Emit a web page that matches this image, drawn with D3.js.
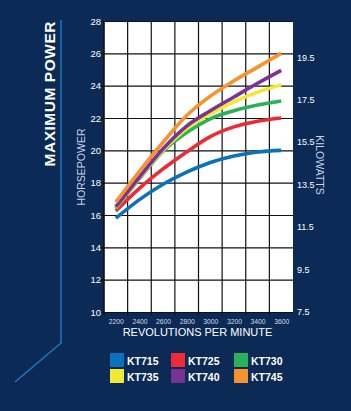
<!DOCTYPE html>
<html>
<head>
<meta charset="utf-8">
<script src="https://cdn.jsdelivr.net/npm/d3@7"></script>
<style>
  html, body { margin:0; padding:0; background:#0c2a56; }
  svg { display:block; font-family:"Liberation Sans", Arial, sans-serif; }
</style>
</head>
<body>
<div id="chart"></div>
<script>
// Maximum power curves, KT7xx engines
const rpm    = [2200, 2400, 2600, 2800, 3000, 3200, 3400, 3600];
const models = ["KT715", "KT725", "KT730", "KT735", "KT740", "KT745"];
const colors = ["#0a72bc", "#ee2a34", "#2ab25a", "#f2ea32", "#7b3295", "#f7922e"];

const kt715 = [15.8, 16.95, 17.9, 18.65, 19.25, 19.65, 19.9, 20.0];
const kt725 = [16.25, 17.65, 18.85, 19.9, 20.85, 21.45, 21.8, 22.0];
const kt730 = [16.4, 18.25, 19.95, 21.1, 21.95, 22.45, 22.8, 23.05];
const kt735 = [16.45, 18.3, 20.0, 21.35, 22.25, 23.0, 23.6, 24.05];
const kt740 = [16.5, 18.35, 20.1, 21.5, 22.45, 23.3, 24.15, 24.95];
const kt745 = [16.8, 18.7, 20.5, 22.15, 23.35, 24.3, 25.15, 26.0];
const seriesValues = [kt715, kt725, kt730, kt735, kt740, kt745];

const hpTicks  = [10, 12, 14, 16, 18, 20, 22, 24, 26, 28];
const kwTicks  = [7.5, 9.5, 11.5, 13.5, 15.5, 17.5, 19.5];
const gridRpm  = [2100, 2300, 2500, 2700, 2900, 3100, 3300, 3500];

const W = 351, H = 411;
const plot = { left: 104, right: 293, top: 21, bottom: 312 };

const svg = d3.select("#chart").append("svg")
  .attr("width", W).attr("height", H);

svg.append("rect").attr("width", W).attr("height", H).attr("fill", "#0c2a56");

// decorative blue rule on the left
svg.append("path")
  .attr("d", "M61,20 L61,343 L15,382")
  .attr("fill", "none")
  .attr("stroke", "#1a78c2")
  .attr("stroke-width", 1.5);

svg.append("text")
  .attr("transform", "translate(55,94) rotate(-90)")
  .attr("text-anchor", "middle")
  .attr("font-size", 15.5).attr("font-weight", "bold")
  .attr("fill", "#fff")
  .attr("textLength", 145).attr("lengthAdjust", "spacing")
  .text("MAXIMUM POWER");

/* ---------- scales ---------- */
const x  = d3.scaleLinear().domain([2100, 3700]).range([plot.left, plot.right]);
const y  = d3.scaleLinear().domain([10, 28]).range([plot.bottom, plot.top]);
const yk = d3.scaleLinear().domain([7.5, 21.2]).range([plot.bottom, plot.top]);

svg.append("rect")
  .attr("x", plot.left).attr("y", plot.top)
  .attr("width", plot.right - plot.left).attr("height", plot.bottom - plot.top)
  .attr("fill", "#fff");

// horizontal grid + left labels
svg.append("g")
  .attr("transform", `translate(${plot.left},0)`)
  .call(d3.axisLeft(y).tickValues(hpTicks).tickSizeInner(-(plot.right - plot.left)).tickSizeOuter(0).tickPadding(3))
  .call(g => g.select(".domain").remove())
  .call(g => g.selectAll(".tick line").attr("x1", -3).attr("stroke", "#111").attr("stroke-width", 1.2))
  .call(g => g.selectAll(".tick text")
    .attr("fill", "#fff").attr("font-size", 9.5).attr("font-family", "Liberation Sans, Arial, sans-serif"));

// vertical grid
svg.append("g").selectAll("line")
  .data(gridRpm)
  .join("line")
    .attr("x1", d => x(d)).attr("x2", d => x(d))
    .attr("y1", plot.top).attr("y2", plot.bottom + 3)
    .attr("stroke", "#111")
    .attr("stroke-width", d => d === 2100 ? 1.6 : 1.2);

// x labels (between grid lines)
svg.append("g")
  .attr("transform", `translate(0,${plot.bottom})`)
  .call(d3.axisBottom(x).tickValues(rpm).tickSize(0).tickPadding(7).tickFormat(d3.format("d")))
  .call(g => g.select(".domain").remove())
  .call(g => g.selectAll(".tick text")
    .attr("fill", "#d5dbe6").attr("font-size", 6.8).attr("font-family", "Liberation Sans, Arial, sans-serif"));

// right kilowatt labels
svg.append("g")
  .attr("transform", `translate(${plot.right},0)`)
  .call(d3.axisRight(yk).tickValues(kwTicks).tickSize(0).tickPadding(4).tickFormat(d3.format(".1f")))
  .call(g => g.select(".domain").remove())
  .call(g => g.selectAll(".tick text")
    .attr("fill", "#fff").attr("font-size", 9).attr("font-family", "Liberation Sans, Arial, sans-serif"));

/* ---------- axis titles ---------- */
svg.append("text")
  .attr("transform", "translate(85,167) rotate(-90)")
  .attr("text-anchor", "middle")
  .attr("font-size", 10.5).attr("fill", "#c8d3e6")
  .text("HORSEPOWER");

svg.append("text")
  .attr("transform", "translate(316,165) rotate(90)")
  .attr("text-anchor", "middle")
  .attr("font-size", 10.5).attr("fill", "#c8d3e6")
  .text("KILOWATTS");

svg.append("text")
  .attr("x", 197.5).attr("y", 336)
  .attr("text-anchor", "middle")
  .attr("font-size", 11).attr("fill", "#fff")
  .text("REVOLUTIONS PER MINUTE");

/* ---------- curves ---------- */
const line = d3.line()
  .x((d, i) => x(rpm[i]))
  .y(d => y(d))
  .curve(d3.curveMonotoneX);

svg.append("g").selectAll("path")
  .data(seriesValues)
  .join("path")
    .attr("fill", "none")
    .attr("stroke", (d, i) => colors[i])
    .attr("stroke-width", 3.6)
    .attr("stroke-linecap", "butt")
    .attr("d", line);

/* ---------- legend ---------- */
const legX = [110, 171, 234], legY = [353, 369];
const leg = svg.append("g").selectAll("g")
  .data(models)
  .join("g")
    .attr("transform", (d, i) => `translate(${legX[i % 3]},${legY[Math.floor(i / 3)]})`);
leg.append("rect").attr("width", 14).attr("height", 14)
  .attr("fill", (d, i) => colors[i]);
leg.append("text")
  .attr("x", 17).attr("y", 11.5)
  .attr("font-size", 10.5).attr("font-weight", "bold").attr("fill", "#fff")
  .text(d => d);
</script>
</body>
</html>
